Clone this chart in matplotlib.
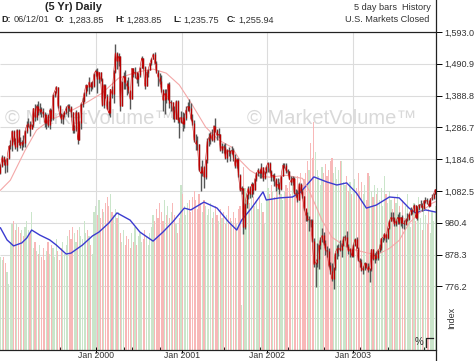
import numpy as np
import pandas as pd
import matplotlib
matplotlib.use("Agg")
import matplotlib.pyplot as plt
import matplotlib.dates as mdates
import matplotlib.transforms as mtransforms
from matplotlib.lines import Line2D

plt.rcParams["font.family"] = ["Liberation Sans", "DejaVu Sans"]

# weekly bars (5 day bars), week ending Friday, starting 1998-11-20
START = "1998-11-20"
FIRST_OPEN = 1141

closes = [
    1163, 1192, 1177, 1166, 1188, 1226,
    # 1999
    1229, 1275, 1243, 1225, 1279, 1240, 1230, 1239, 1238, 1276, 1294, 1299, 1283,
    1293, 1348, 1319, 1356, 1335, 1346, 1338, 1330, 1302, 1327, 1293, 1343, 1316,
    1391, 1403, 1418, 1357, 1329, 1313, 1327, 1336, 1348, 1357, 1351, 1336, 1277,
    1282, 1336, 1247, 1301, 1362, 1370, 1397, 1422, 1416, 1433, 1417, 1421, 1459, 1469,
    # 2000
    1441, 1465, 1441, 1360, 1424, 1387, 1346, 1333, 1409, 1395, 1464, 1527, 1499,
    1516, 1357, 1434, 1452, 1432, 1421, 1406, 1378, 1477, 1457, 1465, 1441, 1455,
    1478, 1510, 1481, 1419, 1462, 1472, 1492, 1507, 1521, 1495, 1466, 1449, 1437,
    1408, 1374, 1396, 1379, 1427, 1365, 1367, 1341, 1315, 1370, 1312, 1305, 1320,
    # 2001
    1298, 1318, 1342, 1354, 1349, 1315, 1301, 1246, 1234, 1233, 1150, 1139, 1160,
    1128, 1183, 1243, 1254, 1266, 1246, 1292, 1277, 1261, 1265, 1214, 1226, 1224,
    1190, 1215, 1211, 1205, 1214, 1191, 1162, 1185, 1134, 1085, 1093, 966, 1041,
    1071, 1092, 1073, 1105, 1087, 1120, 1139, 1150, 1139, 1158, 1123, 1144, 1161,
    # 2002
    1173, 1146, 1128, 1133, 1122, 1096, 1104, 1090, 1131, 1165, 1166, 1148, 1147,
    1122, 1111, 1125, 1076, 1073, 1054, 1106, 1083, 1067, 1027, 1007, 990, 990,
    989, 921, 847, 852, 864, 908, 928, 940, 916, 893, 889, 845, 827,
    800, 835, 884, 897, 900, 894, 909, 930, 936, 906, 889, 895, 875,
    # 2003
    909, 927, 901, 861, 856, 829, 834, 851, 841, 829, 833, 895, 864,
    878, 868, 893, 898, 930, 933, 946, 933, 964, 987, 998, 995, 976,
    985, 998, 981, 998, 980, 977, 990, 993, 1008, 1021, 1018, 1036, 997,
    1029, 1038, 1039, 1028, 1051, 1053, 1050, 1035, 1058, 1061, 1074, 1088,
]

highs = [
    1170, 1197, 1195, 1184, 1190, 1229,
    1245, 1279, 1277, 1253, 1283, 1282, 1255, 1246, 1261, 1279, 1306, 1317, 1306,
    1297, 1350, 1362, 1361, 1372, 1366, 1352, 1348, 1337, 1330, 1330, 1348, 1345,
    1393, 1405, 1421, 1418, 1360, 1333, 1329, 1340, 1355, 1362, 1361, 1355, 1337,
    1293, 1344, 1337, 1306, 1366, 1384, 1400, 1425, 1424, 1447, 1434, 1436, 1461, 1473,
    1478, 1466, 1465, 1446, 1425, 1425, 1395, 1370, 1410, 1421, 1470, 1553, 1530,
    1527, 1516, 1436, 1463, 1470, 1438, 1450, 1405, 1478, 1477, 1480, 1465, 1460,
    1482, 1517, 1510, 1484, 1468, 1475, 1494, 1509, 1525, 1530, 1500, 1470, 1461,
    1455, 1410, 1410, 1411, 1430, 1432, 1375, 1368, 1355, 1376, 1376, 1320, 1340,
    1335, 1333, 1355, 1369, 1377, 1365, 1330, 1310, 1267, 1260, 1233, 1164, 1183,
    1162, 1186, 1253, 1269, 1272, 1280, 1294, 1316, 1280, 1286, 1266, 1237, 1235,
    1238, 1218, 1225, 1215, 1226, 1220, 1202, 1187, 1187, 1136, 1097, 1092, 1045,
    1074, 1099, 1098, 1110, 1109, 1125, 1145, 1155, 1152, 1173, 1160, 1146, 1164,
    1176, 1175, 1150, 1138, 1139, 1123, 1125, 1110, 1132, 1172, 1173, 1173, 1154,
    1148, 1130, 1130, 1126, 1090, 1085, 1108, 1107, 1090, 1068, 1023, 1015, 1002,
    994, 994, 930, 854, 917, 913, 934, 965, 950, 925, 905, 900, 856,
    852, 840, 885, 910, 912, 925, 915, 937, 941, 954, 912, 900, 895,
    912, 932, 935, 904, 868, 864, 843, 853, 852, 852, 836, 896, 895,
    885, 890, 894, 911, 931, 935, 948, 945, 965, 990, 1016, 1015, 999,
    988, 1010, 1015, 1000, 1004, 990, 995, 1012, 1011, 1030, 1023, 1040, 1036,
    1034, 1040, 1053, 1045, 1055, 1062, 1060, 1055, 1060, 1072, 1075, 1090,
]

lows = [
    1138, 1158, 1165, 1141, 1142, 1185,
    1218, 1212, 1235, 1218, 1212, 1230, 1220, 1213, 1225, 1225, 1268, 1287, 1259,
    1280, 1289, 1307, 1310, 1328, 1330, 1320, 1319, 1287, 1281, 1287, 1280, 1308,
    1311, 1385, 1396, 1350, 1320, 1300, 1298, 1320, 1330, 1320, 1340, 1320, 1268,
    1268, 1276, 1233, 1247, 1283, 1353, 1367, 1388, 1403, 1395, 1405, 1409, 1415, 1453,
    1397, 1430, 1437, 1356, 1350, 1380, 1345, 1325, 1320, 1380, 1365, 1462, 1475,
    1485, 1339, 1357, 1410, 1410, 1390, 1398, 1346, 1378, 1450, 1445, 1428, 1420,
    1450, 1478, 1475, 1410, 1420, 1448, 1470, 1488, 1505, 1490, 1460, 1420, 1425,
    1400, 1340, 1330, 1365, 1375, 1350, 1340, 1315, 1305, 1315, 1300, 1254, 1300,
    1274, 1285, 1310, 1338, 1340, 1310, 1295, 1240, 1214, 1215, 1147, 1081, 1130,
    1092, 1120, 1172, 1228, 1234, 1242, 1240, 1272, 1245, 1254, 1210, 1203, 1204,
    1184, 1175, 1196, 1180, 1200, 1180, 1157, 1155, 1128, 1082, 1073, 945, 960,
    1028, 1057, 1060, 1062, 1072, 1085, 1115, 1130, 1125, 1125, 1115, 1120, 1140,
    1145, 1140, 1115, 1115, 1100, 1082, 1090, 1074, 1085, 1130, 1155, 1140, 1135,
    1120, 1102, 1102, 1074, 1063, 1048, 1052, 1075, 1060, 1020, 986, 985, 953,
    966, 918, 840, 775, 837, 833, 895, 920, 910, 876, 870, 840, 815,
    795, 769, 830, 865, 875, 890, 872, 905, 925, 902, 880, 870, 870,
    870, 905, 898, 858, 840, 825, 817, 830, 835, 822, 789, 825, 860,
    852, 860, 862, 886, 893, 920, 926, 918, 928, 960, 985, 985, 970,
    970, 976, 975, 970, 965, 960, 972, 986, 990, 1006, 1008, 1015, 995,
    990, 1020, 1030, 1018, 1025, 1044, 1040, 1031, 1034, 1055, 1056, 1072,
]

# weekly volume, billions of shares
volume = [
    3.1, 3.0, 3.1, 2.9, 2.6, 2.2,
    3.6, 4.2, 4.3, 4.0, 4.2, 4.1, 3.9, 4.0, 3.8, 4.1, 4.3, 4.0, 3.9, 4.6,
    3.4, 3.6, 3.3, 3.2, 3.5, 3.1, 3.4, 3.0, 3.3, 3.6, 3.2, 3.5, 3.4, 3.1, 3.7, 3.3,
    3.0, 3.4, 3.6, 3.2, 3.5,
    3.8, 4.0, 3.7, 4.1, 3.9, 3.6, 4.0, 4.1, 3.8, 3.7, 4.3, 3.9, 4.0, 3.8, 3.5, 3.2,
    4.6, 4.8, 4.5, 5.0, 4.4, 4.7, 4.6, 4.9, 5.1, 4.8, 5.2, 4.6, 4.5, 4.7, 4.4, 4.6,
    3.9, 3.6, 4.0, 3.5, 3.8, 3.7, 3.4, 3.9, 3.6, 4.1, 3.5, 3.8, 3.9, 3.6, 3.7, 4.0,
    3.8, 3.5, 3.9, 4.1,
    4.5, 4.3, 4.7, 4.4, 4.9, 4.6, 4.3, 5.0, 4.5, 4.8, 4.4, 4.6, 4.9, 4.5, 4.2, 3.9, 4.4,
    5.5,
    5.2, 4.8, 4.5, 4.9, 5.0, 4.6, 5.1, 5.3, 5.0, 4.7, 5.2, 4.9, 4.6, 5.0, 4.8, 4.5,
    4.7, 4.9, 4.4, 4.6, 4.8, 4.5, 4.3, 4.7, 4.4, 4.6, 4.2, 4.5, 4.8, 4.4, 4.3, 4.6,
    4.4, 4.2, 4.7,
    4.8, 1.5, 6.1,
    5.4, 5.0, 5.3, 4.9, 5.2, 5.1, 4.8, 5.0, 4.7, 5.1, 4.9, 4.6, 4.2,
    5.0, 5.4, 5.2, 5.5, 5.3, 5.1, 5.6, 5.4, 5.7, 5.2, 5.0, 5.3, 5.5, 5.4, 5.6, 5.2,
    5.5, 5.3, 5.7, 5.8, 5.6, 5.9, 5.5, 5.7,
    5.9, 6.3, 6.0, 6.9, 6.4, 7.6,
    6.6, 6.0, 5.8, 5.5, 6.1, 5.9, 6.2, 5.8, 6.0, 6.3, 6.4, 5.9, 6.1, 5.7, 6.0, 6.3,
    6.3, 5.6,
    5.5, 5.8, 5.3, 5.6, 5.2, 5.5, 5.7, 5.4, 5.9, 5.3, 5.6, 5.2, 5.5, 5.0, 5.9, 5.8,
    5.3, 5.1, 5.5, 5.2, 5.4,
    5.0, 5.4, 4.8, 5.8, 5.2, 4.9, 5.3, 5.0, 4.7, 5.1, 4.9, 5.2, 4.8,
    4.6, 5.0, 4.4, 4.8, 5.2, 4.5, 4.1, 4.7, 4.9, 4.3, 4.6, 5.1, 4.4, 4.0, 4.8, 4.5,
    4.2, 4.7, 3.9, 4.6, 4.3, 4.8,
]

# moving average of price (week number, value)
ma_weeks = [0, 6, 9, 15, 22, 30, 40, 52, 62, 72, 83, 93, 101, 109, 117, 125, 133,
            141, 146, 152, 158, 164, 174, 184, 188, 196, 202, 211, 217, 225, 231,
            237, 243, 249, 255, 263, 265]
ma_vals = [1085, 1117, 1149, 1213, 1278, 1310, 1332, 1365, 1397, 1445, 1464, 1474,
           1461, 1423, 1358, 1288, 1246, 1223, 1181, 1149, 1130, 1127, 1133, 1123,
           1085, 988, 934, 902, 892, 882, 882, 898, 924, 979, 1011, 1043, 1048]

# blue index line, plotted in the volume pane (week number, value)
idx_weeks = [0, 4, 8, 13, 16, 19, 24, 30, 34, 40, 43, 50, 56, 60, 66, 71, 79, 85,
             93, 99, 105, 112, 116, 124, 132, 139, 144, 147, 153, 160, 162, 170,
             178, 183, 191, 199, 205, 211, 217, 223, 229, 237, 243, 249, 253, 259,
             265]
idx_vals = [4.07, 3.67, 3.47, 3.57, 3.73, 4.0, 3.83, 3.67, 3.5, 3.2, 3.23, 3.5,
            3.8, 3.93, 4.23, 4.57, 4.33, 3.93, 3.63, 3.93, 4.27, 4.73, 4.67, 4.93,
            4.73, 4.27, 4.0, 4.33, 4.73, 5.27, 5.0, 5.07, 5.1, 5.27, 5.77, 5.6, 5.5,
            5.57, 5.23, 4.73, 4.83, 5.1, 5.07, 4.73, 4.57, 4.67, 4.6]

price_ticks = [1593.0, 1490.9, 1388.8, 1286.7, 1184.6, 1082.5, 980.4, 878.3, 776.2]
grid_prices = price_ticks + [674.1]
year_ticks = ["2000-01-01", "2001-01-01", "2002-01-01", "2003-01-01"]

PMIN, PMAX = 572.0, 1593.0
VMAX = 10.6

dates = pd.date_range(START, periods=len(closes), freq="W-FRI")
opens = [FIRST_OPEN] + closes[:-1]
up = np.array(closes) >= np.array(opens)
vol_colors = np.where(up, "#cae5ca", "#f8b8b8")

W, H = 474, 361
fig = plt.figure(figsize=(W / 100, H / 100), dpi=100, facecolor="white")
L, R, B, T = 0, 436, 350, 32
ax = fig.add_axes([L / W, 1 - B / H, (R - L) / W, (B - T) / H])
ax2 = ax.twinx()

# volume pane (underneath)
ax.bar(dates, volume, width=5.0, color=vol_colors, linewidth=0, zorder=2)
ax.plot(dates[idx_weeks], idx_vals, color="#3b3bd0", lw=1.0, zorder=3)
ax.set_ylim(0, VMAX)

# grid
blend = mtransforms.blended_transform_factory(ax.transAxes, ax2.transData)
ax.hlines(grid_prices, 0, 1, transform=blend, color="#dcdcdc", lw=0.8, zorder=1)
ax.vlines(pd.to_datetime(year_ticks), 0, VMAX, color="#dcdcdc", lw=0.8, zorder=1)

# price bars
ax2.plot(dates[ma_weeks], ma_vals, color="#f4a8a8", lw=0.8, zorder=2)
ax2.vlines(dates, lows, highs, color="#555555", lw=1.0, zorder=3)
ax2.vlines(dates, opens, closes, color="#b80000", lw=0.9, zorder=4)
ax2.plot(dates, closes, color="#cc1010", lw=0.4, zorder=4)
ax2.set_ylim(PMIN, PMAX)

for xc in (90, 332):
    ax2.text(xc / (R - L), (B - 118) / (B - T), "\u00a9 MarketVolume\u2122",
             transform=ax2.transAxes, ha="center", va="center", fontsize=14.5,
             color="#d0d0d0", alpha=0.8, zorder=1)

ax.set_xlim(pd.Timestamp("1998-11-18"), pd.Timestamp("2003-12-22"))
ax.set_xticks(pd.to_datetime(year_ticks))
ax.xaxis.set_major_formatter(mdates.DateFormatter("Jan %Y"))
ax.xaxis.set_minor_locator(mdates.MonthLocator())
ax.tick_params(axis="x", which="major", direction="inout", length=5, width=0.7,
               labelsize=6.3, labelcolor="#333333", pad=-2)
ax.tick_params(axis="x", which="minor", direction="in", length=2.5, width=0.6)
ax.tick_params(axis="y", left=False, labelleft=False)

ax2.set_yticks(price_ticks)
ax2.set_yticklabels([f"{p:,.1f}" for p in price_ticks])
ax2.tick_params(axis="y", direction="out", length=4, width=0.7, labelsize=6.5,
                labelcolor="#333333", pad=2)

for a in (ax, ax2):
    a.spines["left"].set_visible(False)
    a.spines["right"].set_visible(False)
    a.spines["top"].set_color("#222222")
    a.spines["bottom"].set_color("#222222")
    a.spines["top"].set_linewidth(0.8)
    a.spines["bottom"].set_linewidth(0.8)
ax.set_facecolor("white")

# right border running full height
fig.add_artist(Line2D([R / W, R / W], [0, 1], transform=fig.transFigure,
                      color="#222222", lw=0.9))


def fx(px):
    return px / W


def fy(py):
    return 1 - py / H


fig.text(fx(73), fy(7), "(5 Yr) Daily", fontsize=7.8, fontweight="bold",
         ha="center", va="center", color="#222222")
header = [("D:", 1, "06/12/01", 14), ("O:", 55, "1,283.85", 68),
          ("H:", 115, "1,283.85", 126), ("L:", 173, "1,235.75", 183),
          ("C:", 227, "1,255.94", 238)]
for key, kx, val, vx in header:
    fig.text(fx(kx), fy(20), key, fontsize=6.5, fontweight="bold", ha="left",
             va="center", color="#222222")
    fig.text(fx(vx), fy(20), val, fontsize=6.6, ha="left", va="center",
             color="#333333")
fig.text(fx(431), fy(7), "5 day bars  History", fontsize=6.6, ha="right",
         va="center", color="#333333")
fig.text(fx(429), fy(20), "U.S. Markets Closed", fontsize=6.6, ha="right",
         va="center", color="#333333")

fig.text(fx(452), fy(318), "Index", rotation=90, fontsize=6.5, ha="center",
         va="center", color="#333333")
fig.text(fx(419), fy(342), "%", fontsize=7, ha="center", va="center",
         color="#333333")
fig.add_artist(Line2D([fx(426), fx(426), fx(433)], [fy(347), fy(338), fy(338)],
                      transform=fig.transFigure, color="#222222", lw=0.9))

fig.savefig("out.png", dpi=100, facecolor="white")
